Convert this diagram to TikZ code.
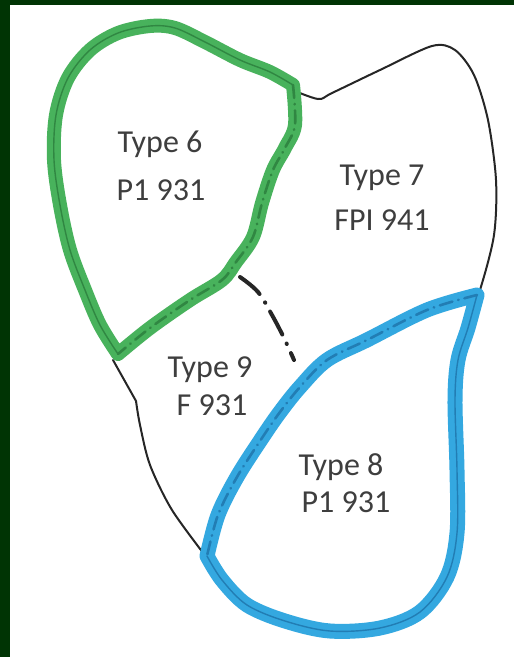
\documentclass[tikz,border=0pt]{standalone}
\usepackage{fontspec}
\setmainfont{Carlito}
\begin{document}
\begin{tikzpicture}[x=1pt,y=-1pt]
\definecolor{bgdark}{RGB}{0,52,4}
\definecolor{mgreen}{RGB}{72,178,92}
\definecolor{dgreen}{RGB}{48,135,66}
\definecolor{mblue}{RGB}{52,168,224}
\definecolor{dblue}{RGB}{34,125,180}
\definecolor{txt}{RGB}{62,62,62}
\tikzset{
  outline/.style={black!85, line width=2pt, line join=round, line cap=round},
  gmark/.style={mgreen, line width=14pt, line join=round, line cap=round},
  bmark/.style={mblue, line width=15pt, line join=round, line cap=round},
  ginner/.style={dgreen, line width=1.4pt, line cap=round},
  binner/.style={dblue, line width=1.4pt, line cap=round},
  gdash/.style={dgreen, line width=2.6pt, line cap=round, dash pattern=on 13pt off 6pt on 0.5pt off 6pt},
  bdash/.style={dblue, line width=2.6pt, line cap=round, dash pattern=on 13pt off 6pt on 0.5pt off 6pt},
  divider/.style={black!85, line width=4pt, line cap=round, dash pattern=on 26pt off 10pt on 0.5pt off 10pt},
  lbl/.style={txt, anchor=base, inner sep=0pt, font=\fontsize{32}{38}\selectfont}
}
% background and frame
\path[use as bounding box] (0,0) rectangle (514,657);
\fill[bgdark] (0,0) rectangle (514,657);
\fill[white] (10,5) rectangle (514,657);

% visible black outline
\draw[outline] plot[smooth,tension=0.5] coordinates {(290,89) (318,99) (332,93) (380,70) (432,46) (455,50) (474,75) (488,120) (496,180) (494,235) (480,290) (462,340)};
\draw[outline] (113,360) -- (136,401) -- plot[smooth,tension=0.5] coordinates {(136,401) (140,425) (150,465) (172,510) (207,558)};

% dash-dot divider between Type 7 and Type 9
\draw[divider] plot[smooth,tension=0.6] coordinates {(240,277) (258,292) (272,315) (284,338) (294,360)};

% Type 6 green marker
\draw[gmark] plot[smooth,tension=0.55] coordinates {(118,354) (100,325) (85,290) (70,250) (60,205) (54,160) (56,115) (68,78) (90,50) (118,33) (150,26) (175,28) (205,42) (240,60) (270,72) (293,85)}
  -- plot[smooth,tension=0.55] coordinates {(293,85) (295,125) (285,148) (273,170) (262,203) (253,237) (236,262) (222,280) (190,300) (150,328) (118,354)} -- cycle;
\draw[ginner] plot[smooth,tension=0.55] coordinates {(118,354) (100,325) (85,290) (70,250) (60,205) (54,160) (56,115) (68,78) (90,50) (118,33) (150,26) (175,28) (205,42) (240,60) (270,72) (293,85)};
\draw[gdash] plot[smooth,tension=0.55] coordinates {(293,85) (295,125) (285,148) (273,170) (262,203) (253,237) (236,262) (222,280) (190,300) (150,328) (118,354)};

% Type 8 blue marker
\draw[bmark] plot[smooth,tension=0.55] coordinates {(477,295) (427,310) (367,340) (327,360) (300,387) (280,412) (262,438) (237,477) (218,515) (207,556)}
  -- plot[smooth,tension=0.55] coordinates {(207,556) (222,580) (247,605) (285,621) (330,631) (380,628) (420,612) (447,577) (457,533) (457,470) (455,400) (458,360) (468,328) (477,295)} -- cycle;
\draw[bdash] plot[smooth,tension=0.55] coordinates {(477,295) (427,310) (367,340) (327,360) (300,387) (280,412) (262,438) (237,477) (218,515) (207,556)};
\draw[binner] plot[smooth,tension=0.55] coordinates {(207,556) (222,580) (247,605) (285,621) (330,631) (380,628) (420,612) (447,577) (457,533) (457,470) (455,400) (458,360) (468,328) (477,295)};

% labels
\node[lbl] (t6a) at (160,152) {Type 6};
\node[lbl] (t6b) at (161,200) {P1 931};
\node[lbl] (t7a) at (382,185) {Type 7};
\node[lbl] (t7b) at (382,230) {FPI 941};
\node[lbl] (t9a) at (210,377) {Type 9};
\node[lbl] (t9b) at (212,415) {F 931};
\node[lbl] (t8a) at (341,475) {Type 8};
\node[lbl] (t8b) at (346,512) {P1 931};
\end{tikzpicture}
\end{document}
